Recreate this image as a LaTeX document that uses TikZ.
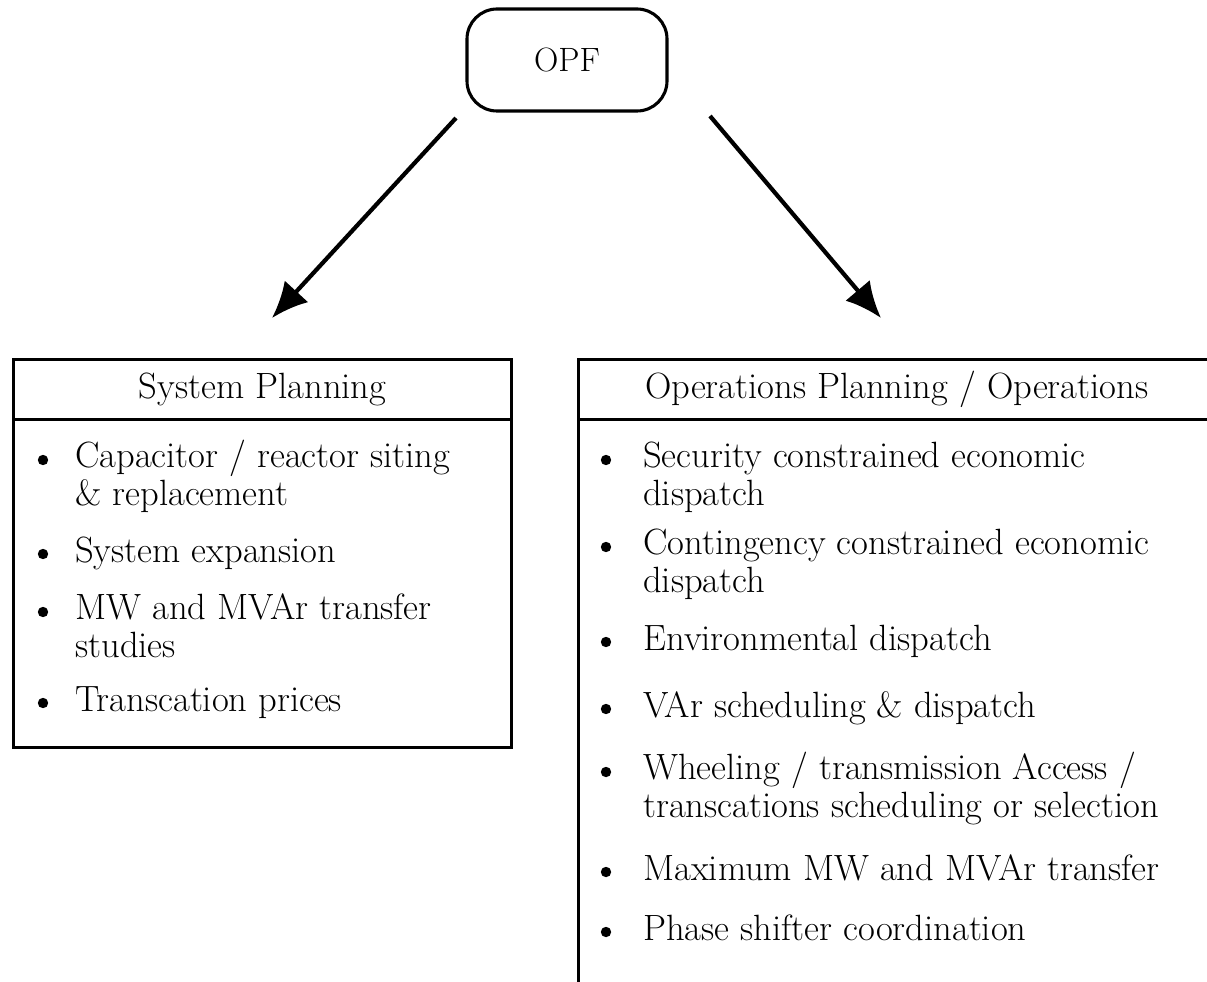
\documentclass[tikz,border=0pt]{standalone}
\usepackage{tikz}
\usetikzlibrary{arrows.meta}

\begin{document}
\begin{tikzpicture}[x=0.25mm,y=-0.25mm,
        opfbox/.style={draw,line width=2.2pt,rounded corners=7.5mm,minimum width=50mm,minimum height=25.5mm,font=\fontsize{24}{24}\selectfont},
        headbox/.style={draw,line width=2.4pt,anchor=north west,inner sep=0pt,minimum height=15mm,font=\fontsize{26}{26}\selectfont},
        bodybox/.style={draw,line width=2.4pt,anchor=north west,inner sep=0pt},
        itemtext/.style={anchor=base west,align=left,inner sep=0pt,font=\fontsize{26}{9.3mm}\selectfont},
        bul/.style={circle,fill,inner sep=0pt,minimum size=2.6mm},
        flow/.style={line width=3pt,-{Latex[length=9mm,width=8mm]}}]

        \useasboundingbox (0,0) rectangle (1207,982);

        %top node
        \node[opfbox] (opf) at (567,60) {OPF};

        %left box
        \node[headbox,minimum width=124.5mm] (sysh) at (12,358) {System Planning};
        \node[bodybox,minimum width=124.5mm,minimum height=82mm] (sysb) at (12,418) {};

        %right box (runs past the page edge)
        \node[headbox,minimum width=159mm] (oph) at (577,358) {Operations Planning / Operations};
        \node[bodybox,minimum width=159mm,minimum height=148mm] (opb) at (577,418) {};

        %arrow ends
        \coordinate (ls) at (456,118);
        \coordinate (lt) at (272,318);
        \coordinate (rs) at (710,116);
        \coordinate (rt) at (881,318);

        %arrows
        \draw[flow] (ls) -- (lt);
        \draw[flow] (rs) -- (rt);

        %left items (base = last line)
        \node[bul] (sb1) at (43,460) {};
        \node[itemtext] (s1) at (75,505) {Capacitor / reactor siting\\\& replacement};
        \node[bul] (sb2) at (43,554) {};
        \node[itemtext] (s2) at (75,562) {System expansion};
        \node[bul] (sb3) at (43,612) {};
        \node[itemtext] (s3) at (75,657) {MW and MVAr transfer\\studies};
        \node[bul] (sb4) at (43,703) {};
        \node[itemtext] (s4) at (75,711) {Transcation prices};

        %right items
        \node[bul] (ob1) at (606,460) {};
        \node[itemtext] (o1) at (643,505) {Security constrained economic\\dispatch};
        \node[bul] (ob2) at (606,547) {};
        \node[itemtext] (o2) at (643,592) {Contingency constrained economic\\dispatch};
        \node[bul] (ob3) at (606,642) {};
        \node[itemtext] (o3) at (643,650) {Environmental dispatch};
        \node[bul] (ob4) at (606,709) {};
        \node[itemtext] (o4) at (643,717) {VAr scheduling \& dispatch};
        \node[bul] (ob5) at (606,772) {};
        \node[itemtext] (o5) at (643,817) {Wheeling / transmission Access /\\transcations scheduling or selection};
        \node[bul] (ob6) at (606,872) {};
        \node[itemtext] (o6) at (643,880) {Maximum MW and MVAr transfer};
        \node[bul] (ob7) at (606,932) {};
        \node[itemtext] (o7) at (643,940) {Phase shifter coordination};
\end{tikzpicture}
\end{document}
